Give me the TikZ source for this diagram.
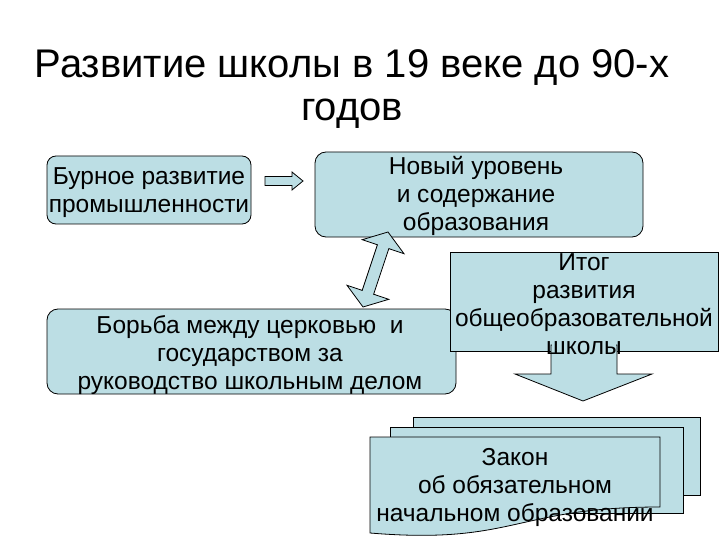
\documentclass[tikz,border=0pt]{standalone}
\usepackage{fontspec}
\setmainfont{Liberation Sans}
\definecolor{boxfill}{RGB}{188,222,228}
\begin{document}
\begin{tikzpicture}[x=1pt,y=-1pt,
  boxtext/.style={font=\fontsize{24.5}{28}\selectfont, align=center, inner sep=0pt},
  rbox/.style={draw=black, line width=0.8pt, fill=boxfill, rounded corners=11pt, inner sep=0pt},
  sbox/.style={draw=black, line width=0.8pt, fill=boxfill, inner sep=0pt},
  blockarrow/.style={draw=black, line width=0.8pt, fill=boxfill, line join=miter}
]
\useasboundingbox (0,0) rectangle (720,540);
\fill[white] (0,0) rectangle (720,540);

% title
\node[font=\fontsize{40}{39}\selectfont, align=center, inner sep=0pt] (title) at (352,89)
  {Развитие школы в 19 веке до 90-х\\[4pt]годов};

% box 1
\node[rbox, minimum width=204pt, minimum height=68pt, rounded corners=9pt] (b1) at (149,190) {};
\node[boxtext] (t1) at (149,193) {Бурное развитие\\промышленности};

% box 2
\node[rbox, minimum width=328pt, minimum height=85pt] (b2) at (479,194.5) {};
\node[boxtext] (t2) at (476,195.5) {Новый уровень\\и содержание\\образования};

% right arrow between box 1 and box 2
\draw[blockarrow] (265,176.5) -- (292,176.5) -- (292,172) -- (303,181) -- (292,190) -- (292,185.5) -- (265,185.5) -- cycle;

% box 3
\node[rbox, minimum width=409pt, minimum height=85pt] (b3) at (251.5,351.5) {};
\node[boxtext] (t3) at (250,355) {Борьба между церковью \ и\\государством за\\руководство школьным делом};

% double arrow between box 2 and box 3
\draw[blockarrow] (388,232) -- (404,253.7) -- (388.8,248.6) -- (373.6,294.2) -- (388.8,299.3)
  -- (363,307) -- (347,285.3) -- (362.2,290.4) -- (377.4,244.8) -- (362.2,239.7) -- cycle;

% box 4
\node[sbox, minimum width=268pt, minimum height=99pt] (b4) at (584,301.5) {};
% down arrow
\draw[blockarrow] (551,345) -- (617,345) -- (617,374) -- (652,374) -- (583,401) -- (515,374) -- (551,374) -- cycle;
\fill[boxfill] (551.6,344) rectangle (616.4,351);
\node[boxtext] (t4) at (584,304) {Итог\\развития\\общеобразовательной\\школы};

% multi-document
\draw[sbox] (413,417) rectangle (700,495);
\draw[sbox] (390,427) rectangle (683,513);
\draw[sbox] (370,437) -- (660,437) -- (660,507) .. controls (515,507) and (515,545) .. (370,533) -- cycle;
\node[boxtext] (t5) at (515,487) {Закон\\об обязательном\\начальном образовании};
\end{tikzpicture}
\end{document}
